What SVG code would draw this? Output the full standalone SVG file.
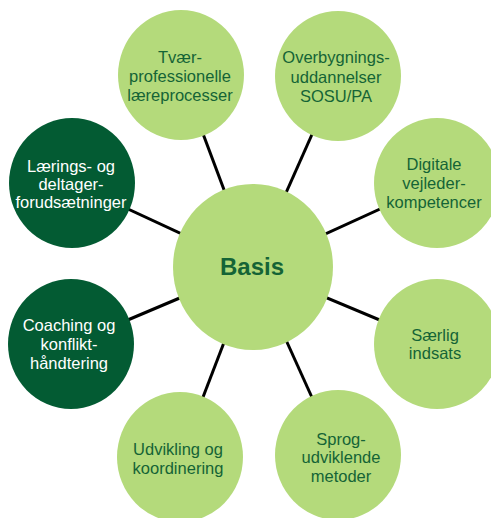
<svg xmlns="http://www.w3.org/2000/svg" width="491" height="518" viewBox="0 0 491 518">
<style>
.c{stroke:#000;stroke-width:3;fill:none}
.l{fill:#b4da7b}
.d{fill:#035b33}
text{font-family:"Liberation Sans",Arial,sans-serif;font-size:16.5px;text-anchor:middle}
.tl{fill:#146436}
.td{fill:#ffffff}
.b{font-size:24px;font-weight:bold;fill:#146436}
</style>
<rect width="491" height="518" fill="#ffffff"/>
<g id="connectors">
<line class="c" x1="253" y1="267" x2="181" y2="75"/>
<line class="c" x1="253" y1="267" x2="338" y2="76"/>
<line class="c" x1="253" y1="267" x2="437" y2="183"/>
<line class="c" x1="253" y1="267" x2="437" y2="344"/>
<line class="c" x1="253" y1="267" x2="338" y2="455"/>
<line class="c" x1="253" y1="267" x2="180" y2="457"/>
<line class="c" x1="253" y1="267" x2="71" y2="344"/>
<line class="c" x1="253" y1="267" x2="72" y2="183"/>
</g>
<g id="basis">
<ellipse class="l" cx="253" cy="267" rx="80" ry="83"/>
<text class="b" x="252" y="275">Basis</text>
</g>
<g id="tvaer">
<ellipse class="l" cx="181" cy="75" rx="63" ry="65"/>
<text class="tl" x="180" y="63">Tvær-</text>
<text class="tl" x="180" y="82">professionelle</text>
<text class="tl" x="180" y="101">læreprocesser</text>
</g>
<g id="overbygning">
<ellipse class="l" cx="338" cy="76" rx="63" ry="65"/>
<text class="tl" x="336" y="63">Overbygnings-</text>
<text class="tl" x="336" y="83">uddannelser</text>
<text class="tl" x="336" y="102">SOSU/PA</text>
</g>
<g id="digitale">
<ellipse class="l" cx="437" cy="183" rx="63" ry="65"/>
<text class="tl" x="434" y="170">Digitale</text>
<text class="tl" x="434" y="189">vejleder-</text>
<text class="tl" x="434" y="208">kompetencer</text>
</g>
<g id="saerlig">
<ellipse class="l" cx="437" cy="344" rx="63" ry="65"/>
<text class="tl" x="435" y="341">Særlig</text>
<text class="tl" x="435" y="359">indsats</text>
</g>
<g id="sprog">
<ellipse class="l" cx="338" cy="455" rx="63" ry="65"/>
<text class="tl" x="341" y="445">Sprog-</text>
<text class="tl" x="341" y="463">udviklende</text>
<text class="tl" x="341" y="482">metoder</text>
</g>
<g id="udvikling">
<ellipse class="l" cx="180" cy="457" rx="63" ry="65"/>
<text class="tl" x="178" y="455">Udvikling og</text>
<text class="tl" x="178" y="474">koordinering</text>
</g>
<g id="coaching">
<ellipse class="d" cx="71" cy="344" rx="63" ry="65"/>
<text class="td" x="69" y="331">Coaching og</text>
<text class="td" x="69" y="350">konflikt-</text>
<text class="td" x="69" y="369">håndtering</text>
</g>
<g id="laerings">
<ellipse class="d" cx="72" cy="183" rx="63" ry="65"/>
<text class="td" x="71" y="172">Lærings- og</text>
<text class="td" x="71" y="190">deltager-</text>
<text class="td" x="71" y="208">forudsætninger</text>
</g>
</svg>
